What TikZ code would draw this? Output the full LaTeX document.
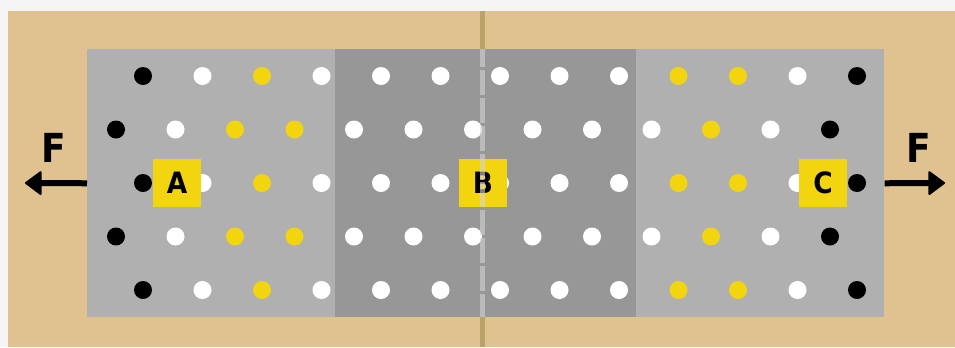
\documentclass[tikz,border=0pt]{standalone}
\usepackage{fontspec}
\setmainfont{DejaVu Sans}
\newfontfamily\labfont{DejaVu Sans Condensed}
\usetikzlibrary{arrows.meta}
\definecolor{pagebg}{HTML}{F5F5F5}
\definecolor{tan}{HTML}{DFC28F}
\definecolor{tanline}{HTML}{B9A36A}
\definecolor{panellight}{HTML}{B0B0B0}
\definecolor{paneldark}{HTML}{979797}
\definecolor{dotyellow}{HTML}{F2D40F}
\definecolor{seam}{HTML}{D4D4D4}
\tikzset{
  dotk/.style={circle,fill=black,inner sep=0pt,minimum size=13.5pt},
  dotw/.style={circle,fill=white,inner sep=0pt,minimum size=13.5pt},
  doty/.style={circle,fill=dotyellow,inner sep=0pt,minimum size=13.5pt},
  tag/.style={fill=dotyellow,minimum size=36pt,inner sep=0pt,font=\labfont\bfseries\fontsize{22}{22}\selectfont},
  forcelbl/.style={font=\labfont\bfseries\fontsize{30}{30}\selectfont,inner sep=0pt},
  force/.style={line width=4.5pt,-{Triangle[length=13pt,width=19pt,line join=round,line width=1.5pt]}},
}
\begin{document}
\begin{tikzpicture}[x=0.75pt,y=-0.75pt]
\useasboundingbox (0,0) rectangle (955,347);
\fill[pagebg] (0,0) rectangle (955,347);
\fill[tan] (8,11) rectangle (955,347);
\draw[tanline,line width=3.75pt] (482.5,11) -- (482.5,347);
\node[fill=panellight,inner sep=0pt,minimum width=597.75pt,minimum height=201pt,anchor=north west] (panel) at (87,49) {};
\node[fill=paneldark,inner sep=0pt,minimum width=225.75pt,minimum height=201pt,anchor=north west] (mid) at (335,49) {};
% dots
\foreach \r/\y in {1/76,3/183,5/290}{
  \foreach \c/\s in {0/k,1/w,2/y,3/w,4/w,5/w,6/w,7/w,8/w,9/y,10/y,11/w,12/k}{
    \node[dot\s] (d\r-\c) at ({143+59.5*\c},\y) {};
  }
}
\foreach \r/\y in {2/129.5,4/236.5}{
  \foreach \c/\s in {0/k,1/w,2/y,3/y,4/w,5/w,6/w,7/w,8/w,9/w,10/y,11/w,12/k}{
    \node[dot\s] (d\r-\c) at ({116+59.5*\c},\y) {};
  }
}
\node[tag] (A) at (177,183) {A};
\node[tag] (B) at (483,183) {B};
\node[tag] (C) at (823,183) {C};
\draw[seam,opacity=0.6,line width=3.5pt,dash pattern=on 18.4pt off 2.6pt,dash phase=4.9pt] (482.5,49) -- (482.5,317);
% forces
\coordinate (lt) at (25,183);
\coordinate (rt) at (945,183);
\draw[force] (panel.west) -- (lt);
\draw[force] (panel.east) -- (rt);
\node[forcelbl] (F1) at (54,148) {F};
\node[forcelbl] (F2) at (919,148) {F};
\end{tikzpicture}
\end{document}
